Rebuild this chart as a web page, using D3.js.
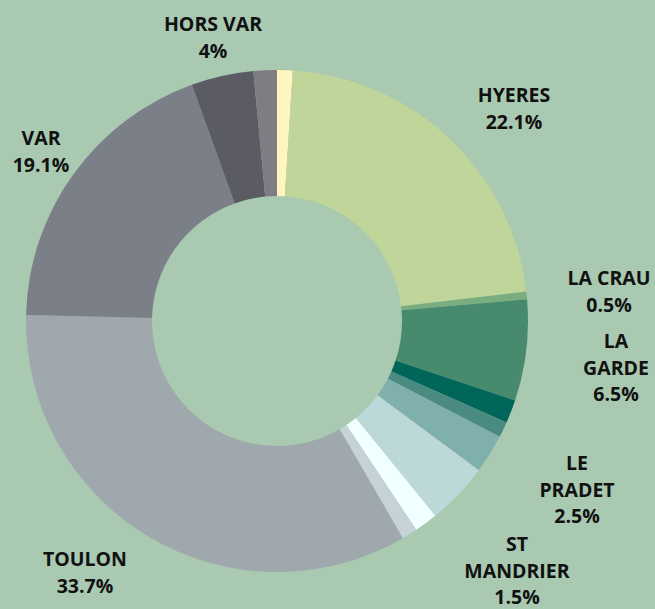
<!DOCTYPE html>
<html><head><meta charset="utf-8">
<script src="https://cdn.jsdelivr.net/npm/d3@7"></script>
<style>html,body{margin:0;padding:0;background:#a9c9b1;} svg{display:block}</style>
</head><body><svg id="c" width="655" height="609"></svg>
<script>
// Data
const categories = ["AUTRE A", "HYERES", "LA CRAU", "LA GARDE", "AUTRE B", "AUTRE C", "LE PRADET", "AUTRE D", "ST MANDRIER", "AUTRE E", "TOULON", "VAR", "HORS VAR", "AUTRE F"];
const values = [1.0, 22.1, 0.5, 6.5, 1.5, 1.0, 2.5, 4.0, 1.5, 1.0, 33.7, 19.1, 4, 1.5];
const labelLines = [null, ["HYERES"], ["LA CRAU"], ["LA", "GARDE"], null, null, ["LE", "PRADET"], null, ["ST", "MANDRIER"], null, ["TOULON"], ["VAR"], ["HORS VAR"], null];
const sliceColors = ["#fff5bf", "#bfd59a", "#7aae80", "#478a6e", "#00665a", "#4a8a80", "#80b0ac", "#bcd8d8", "#f0ffff", "#c5d3d8", "#9fa9ad", "#7b7f87", "#5a5b63", "#7f7c84"];

// Layout (label anchor: center x, first baseline y)
const labelAnchors = {
  "HYERES": [514, 102], "LA CRAU": [609, 285], "LA GARDE": [616, 348],
  "LE PRADET": [577, 470], "ST MANDRIER": [517, 551], "TOULON": [85, 566],
  "VAR": [41, 145], "HORS VAR": [213, 31]
};

const svg = d3.select("#c");
const cx = 277, cy = 321, rOuter = 251, rInner = 125;
const data = categories.map((c, i) => ({ name: c, value: values[i], lines: labelLines[i], color: sliceColors[i] }));
const pie = d3.pie().sort(null).value(d => d.value).startAngle(0).endAngle(2 * Math.PI);
const arc = d3.arc().innerRadius(rInner).outerRadius(rOuter);
const g = svg.append("g").attr("transform", `translate(${cx},${cy})`);
g.selectAll("path").data(pie(data)).join("path")
  .attr("d", arc).attr("fill", d => d.data.color);

const lh = 26.5;
data.filter(d => d.lines).forEach(d => {
  const [x, y] = labelAnchors[d.name];
  const lines = d.lines.concat([d.value + "%"]);
  const t = svg.append("text").attr("x", x).attr("y", y).attr("text-anchor", "middle")
    .attr("font-family", "'Open Sans', sans-serif").attr("font-weight", "bold")
    .attr("font-size", 19.5).attr("fill", "#111");
  lines.forEach((l, i) => t.append("tspan").attr("x", x).attr("y", y + i * lh).text(l));
});
</script></body></html>
